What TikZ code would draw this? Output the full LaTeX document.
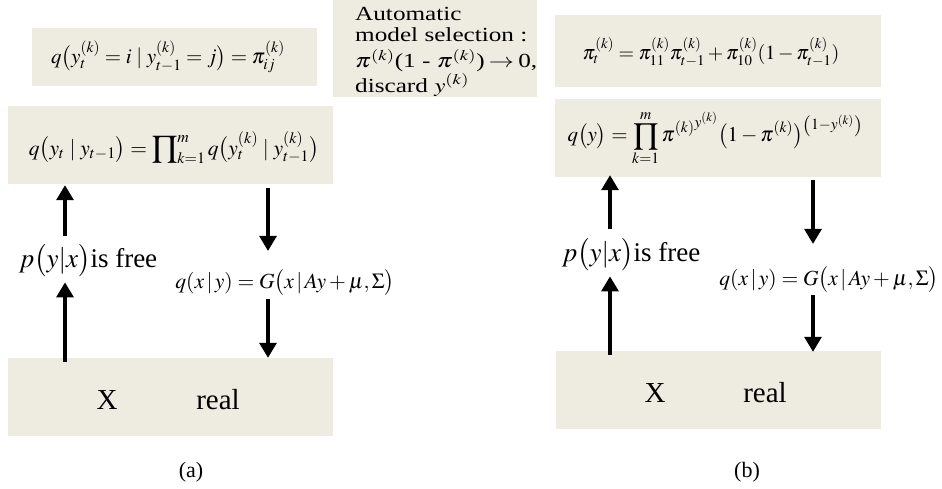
\documentclass[tikz,border=0pt]{standalone}
\usepackage{mathptmx}
\usepackage{fontspec}
\setmainfont{Liberation Serif}
\usetikzlibrary{arrows.meta}
\definecolor{boxfill}{HTML}{EEECE1}
\begin{document}
\begin{tikzpicture}[x=1pt,y=-1pt,
  panel/.style={fill=boxfill, draw=none, inner sep=0pt},
  arr/.style={line width=3.2pt, -{Triangle[width=17pt,length=15pt]}},
  lbl/.style={inner sep=1pt},
  formula/.style={lbl, font=\fontsize{21}{24}\selectfont},
  bigtxt/.style={lbl, font=\fontsize{29}{32}\selectfont},
  side/.style={lbl, font=\fontsize{27}{30}\selectfont},
  gauss/.style={lbl, font=\fontsize{21.5}{24}\selectfont},
  capt/.style={font=\fontsize{22}{24}\selectfont},
]
\useasboundingbox (0,0) rectangle (942,489);
% ---------- (a) ----------
\node[panel, minimum width=285pt, minimum height=58pt] (ba1) at (174.5,57) {};
\node[formula] (fa1) at (168,57) {$q\big(y_t^{(k)}=i\mid y_{t-1}^{(k)}=j\big)=\pi_{ij}^{(k)}$};
\node[panel, minimum width=204pt, minimum height=97pt] (bauto) at (435,48.5) {};
\node[lbl, anchor=north west, inner sep=0pt, font=\fontsize{20}{21}\selectfont] (auto) at (355,6) {\scalebox{1.26}[1]{\begin{tabular}{@{}l@{}}Automatic\\ model selection :\\[1pt] $\pi^{(k)}$(1 - $\pi^{(k)}$)\,$\rightarrow$\,0,\\ discard\ $y^{(k)}$\end{tabular}}};
\node[panel, minimum width=325pt, minimum height=78pt] (ba2) at (170.5,145) {};
\node[formula, font=\fontsize{21.5}{24}\selectfont] (fa2) at (174,148) {$q\big(y_t\mid y_{t-1}\big)=\displaystyle\prod\nolimits_{k=1}^{m}q\big(y_t^{(k)}\mid y_{t-1}^{(k)}\big)$};
\node[panel, minimum width=325pt, minimum height=78pt] (ba3) at (170.5,397) {};
\node[bigtxt] (xa) at (107,400) {X};
\node[bigtxt] (ra) at (218,400) {real};
\node[side] (pa) at (88,261) {$p\big(y|x\big)$is free};
\node[gauss] (qa) at (285,283) {$q(x\,|\,y)=G\big(x\,|\,Ay+\mu,\Sigma\big)$};
\node[capt] (capa) at (191,472) {(a)};
\coordinate (ua) at (65,0);
\coordinate (da) at (268,0);
\draw[arr] ([yshift=-4pt]ba3.north -| ua) -- ([yshift=-4pt]pa.south -| ua);
\draw[arr] ([yshift=8pt]pa.north -| ua) -- ([yshift=-1pt]ba2.south -| ua);
\draw[arr] ([yshift=-4pt]ba2.south -| da) -- ([yshift=18pt]qa.north -| da);
\draw[arr] ([yshift=-2pt]qa.south -| da) -- (ba3.north -| da);
% ---------- (b) ----------
\node[panel, minimum width=326pt, minimum height=72pt] (bb1) at (718,51) {};
\node[formula, font=\fontsize{20}{24}\selectfont] (fb1) at (711,52) {$\pi_t^{(k)}=\pi_{11}^{(k)}\pi_{t-1}^{(k)}+\pi_{10}^{(k)}(1-\pi_{t-1}^{(k)})$};
\node[panel, minimum width=326pt, minimum height=78pt] (bb2) at (718,138) {};
\node[formula] (fb2) at (715,138) {$q\big(y\big)=\displaystyle\prod_{k=1}^{m}{\pi^{(k)}}^{y^{(k)}}\big(1-\pi^{(k)}\big)^{\left(1-y^{(k)}\right)}$};
\node[panel, minimum width=325pt, minimum height=78pt] (bb3) at (718.5,390) {};
\node[bigtxt] (xb) at (655,393) {X};
\node[bigtxt] (rb) at (765,393) {real};
\node[side] (pb) at (631,255) {$p\big(y|x\big)$is free};
\node[gauss] (qb) at (829,280) {$q(x\,|\,y)=G\big(x\,|\,Ay+\mu,\Sigma\big)$};
\node[capt] (capb) at (747,472) {(b)};
\coordinate (ub) at (610,0);
\coordinate (db) at (813,0);
\draw[arr] ([yshift=-4pt]bb3.north -| ub) -- ([yshift=-4pt]pb.south -| ub);
\draw[arr] ([yshift=9pt]pb.north -| ub) -- ([yshift=2pt]bb2.south -| ub);
\draw[arr] ([yshift=-3pt]bb2.south -| db) -- ([yshift=22pt]qb.north -| db);
\draw[arr] ([yshift=-1pt]qb.south -| db) -- ([yshift=-1pt]bb3.north -| db);
\end{tikzpicture}
\end{document}
